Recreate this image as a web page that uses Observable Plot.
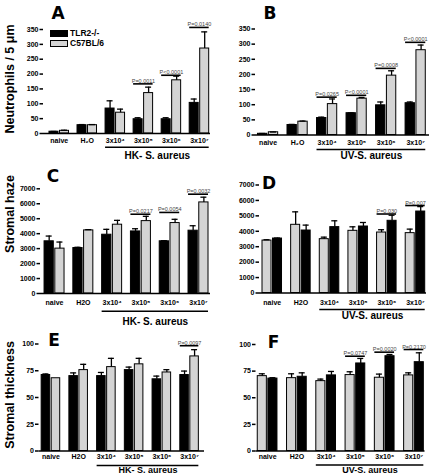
<!DOCTYPE html>
<html><head><meta charset="utf-8">
<script src="https://cdn.jsdelivr.net/npm/d3@7"></script>
<script src="https://cdn.jsdelivr.net/npm/@observablehq/plot@0.6"></script>
<style>
body{margin:0;background:#fff;}
#fig{position:relative;width:432px;height:474px;overflow:hidden;font-family:"Liberation Sans",Arial,sans-serif;color:#000;}
.panel{position:absolute;}
.ytitle{position:absolute;font-weight:bold;font-size:12.5px;white-space:nowrap;transform:translate(-50%,-50%) rotate(-90deg);}
.letter{position:absolute;font-family:"DejaVu Sans",sans-serif;font-weight:bold;font-size:17px;transform:translate(-50%,-50%);line-height:1;}
.leg{position:absolute;font-weight:bold;font-size:8.5px;display:flex;align-items:center;gap:2px;line-height:1;}
.sw{display:inline-block;width:16px;height:5px;border:1px solid #000;}
</style></head>
<body><div id="fig"></div>
<script>
// ---------- data ----------
const catsHK = ["naive", "H₂O", "3x10⁴", "3x10⁵", "3x10⁶", "3x10⁷"];
const catsPlain = ["naive", "H2O", "3x10⁴", "3x10⁵", "3x10⁶", "3x10⁷"];
const strains = ["TLR2-/-", "C57BL/6"];
const groupHK = "HK- S. aureus";
const groupUV = "UV-S. aureus";

// A: Neutrophils / 5 µm, HK-S. aureus
const aFirst = [6, 28, 84, 48, 48, 103];
const aFirstErr = [1, 2, 26, 5, 5, 13];
const aSecond = [9, 28, 70, 136, 179, 286];
const aSecondErr = [2, 2, 12, 20, 14, 56];
const aPcat = ["3x10⁵", "3x10⁶", "3x10⁷"];
const aPy = [167, 196, 357];
const aPtext = ["P=0.0011", "P<0.0001", "P=0.0140"];

// B: Neutrophils / 5 µm, UV-S. aureus
const bFirst = [4, 33, 56, 72, 98, 105];
const bFirstErr = [1, 2, 3, 1, 11, 4];
const bSecond = [9, 44, 102, 120, 196, 280];
const bSecondErr = [1, 2, 17, 4, 16, 17];
const bPcat = ["3x10⁴", "3x10⁵", "3x10⁶", "3x10⁷"];
const bPy = [125, 131, 220, 306];
const bPtext = ["P=0.0265", "P<0.0001", "P=0.0008", "P<0.0001"];

// C: Stromal haze, HK
const cFirst = [3490, 3040, 3930, 4150, 3490, 4200];
const cFirstErr = [350, 50, 360, 180, 40, 330];
const cSecond = [3000, 4220, 4600, 4840, 4710, 6090];
const cSecondErr = [440, 50, 290, 320, 250, 350];
const cPcat = ["3x10⁵", "3x10⁶", "3x10⁷"];
const cPy = [5300, 5420, 6640];
const cPtext = ["P=0.0217", "P=0.0054", "P=0.0032"];

// D: Stromal haze, UV (first bar light, second dark)
const dFirst = [3400, 4420, 3490, 4030, 3920, 3880];
const dFirstErr = [50, 840, 130, 260, 180, 260];
const dSecond = [3530, 4050, 4270, 4310, 4680, 5280];
const dSecondErr = [30, 350, 410, 260, 360, 320];
const dPcat = ["3x10⁶", "3x10⁷"];
const dPy = [5120, 5670];
const dPtext = ["P=0.030", "P=0.007"];

// E: Stromal thickness, HK
const eFirst = [71, 70, 70, 75.6, 67, 71];
const eFirstErr = [1, 3, 3.4, 2.8, 3, 3.7];
const eSecond = [68, 75.6, 78.4, 81, 73.4, 88.4];
const eSecondErr = [0, 5.4, 8.2, 5.6, 2.6, 6.3];
const ePcat = ["3x10⁷"];
const ePy = [98.4];
const ePtext = ["P=0.0097"];

// F: Stromal thickness, UV (first bar light, second dark)
const fFirst = [70.3, 68.4, 65.6, 71.3, 68.8, 71];
const fFirstErr = [2.2, 4.1, 1.9, 3.1, 3.4, 2.4];
const fSecond = [68, 69.7, 71, 82.2, 89, 83.4];
const fSecondErr = [0.8, 3.7, 3.7, 4.7, 1.6, 8.8];
const fPcat = ["3x10⁵", "3x10⁶", "3x10⁷"];
const fPy = [89, 92.8, 95.3];
const fPtext = ["P=0.0747", "P=0.0020", "P=0.2170"];

const ticksNeut = [0, 50, 100, 150, 200, 250, 300, 350];
const ticksHaze = [0, 1000, 2000, 3000, 4000, 5000, 6000, 7000];
const ticksThick = [0, 25, 50, 75, 100];

const DARK = "#000000", LIGHT = "#d4d4d4";

// ---------- layout ----------
const panels = [
  {id:"A", left:0, top:0, h:160, ml:43, mr:6, mt:29, mb:27, pi:0.305, po:0.13, align:0.82, tp:4.5, bdy:13.7, ldy:22.7, lfs:10,
   cats:catsHK, group:groupHK, first:aFirst, firstErr:aFirstErr, second:aSecond, secondErr:aSecondErr, pc:aPcat, py:aPy, pt:aPtext, ticks:ticksNeut, colors:[DARK, LIGHT]},
  {id:"B", left:216, top:0, h:160, ml:39, mr:3, mt:28.5, mb:25.5, pi:0.316, po:0.105, align:0.4, tp:5, bdy:14.5, ldy:20.5, lfs:10,
   cats:catsHK, group:groupUV, first:bFirst, firstErr:bFirstErr, second:bSecond, secondErr:bSecondErr, pc:bPcat, py:bPy, pt:bPtext, ticks:ticksNeut, colors:[DARK, LIGHT]},
  {id:"C", left:0, top:160, h:160, ml:40, mr:6, mt:28.3, mb:27, pi:0.306, po:0.105, align:0.67, tp:6.8, bdy:17.7, ldy:28.7, lfs:10,
   cats:catsPlain, group:groupHK, first:cFirst, firstErr:cFirstErr, second:cSecond, secondErr:cSecondErr, pc:cPcat, py:cPy, pt:cPtext, ticks:ticksHaze, colors:[DARK, LIGHT]},
  {id:"D", left:216, top:160, h:160, ml:43, mr:6, mt:24.5, mb:27.5, pi:0.319, po:0.075, align:0.7, tp:7.3, bdy:16.5, ldy:22.5, lfs:10,
   cats:catsPlain, group:groupUV, first:dFirst, firstErr:dFirstErr, second:dSecond, secondErr:dSecondErr, pc:dPcat, py:dPy, pt:dPtext, ticks:ticksHaze, colors:[LIGHT, DARK]},
  {id:"E", left:0, top:320, h:154, ml:38.5, mr:12, mt:23.5, mb:23.5, pi:0.331, po:0.15, align:0.32, tp:2.7, bdy:14.5, ldy:19, lfs:9,
   cats:catsPlain, group:groupHK, first:eFirst, firstErr:eFirstErr, second:eSecond, secondErr:eSecondErr, pc:ePcat, py:ePy, pt:ePtext, ticks:ticksThick, colors:[DARK, LIGHT]},
  {id:"F", left:216, top:320, h:154, ml:39.5, mr:7.5, mt:24, mb:23.5, pi:0.327, po:0.05, align:0.6, tp:2.7, bdy:14, ldy:19, lfs:9,
   cats:catsPlain, group:groupUV, first:fFirst, firstErr:fFirstErr, second:fSecond, secondErr:fSecondErr, pc:fPcat, py:fPy, pt:fPtext, ticks:ticksThick, colors:[LIGHT, DARK]},
];
const letterPos = {A:[58,12.5], B:[270,12.5], C:[53,176], D:[269,183], E:[54,340], F:[273.5,341.5]};
const yTitles = [["Neutrophils / 5 μm", 10, 79], ["Stromal haze", 10, 214], ["Stromal thickness", 10, 395]];

const fig = document.getElementById("fig");
const W = 216, GAP = 1.5, CAP = 3;

for (const p of panels) {
  const n = p.cats.length;
  const step = (W - p.ml - p.mr) / (n - p.pi + 2 * p.po);
  const bw = step * (1 - p.pi);
  const c1 = bw / 4 - GAP / 4;            // centre of first bar within band
  const c2 = 3 * bw / 4 + GAP / 4;        // centre of second bar within band
  const rows1 = p.cats.map((c, i) => ({cat: c, v: p.first[i], e: p.firstErr[i]}));
  const rows2 = p.cats.map((c, i) => ({cat: c, v: p.second[i], e: p.secondErr[i]}));
  const prow = p.pc.map((c, i) => ({cat: c, y: p.py[i], t: p.pt[i]}));
  const ymax = p.ticks[p.ticks.length - 1];

  const errMarks = (rows, c) => [
    Plot.ruleX(rows.filter(d => d.e > 0), {x: "cat", y1: "v", y2: d => d.v + d.e, dx: c - bw / 2, stroke: "#000", strokeWidth: 1.3}),
    Plot.tickY(rows.filter(d => d.e > 0), {x: "cat", y: d => d.v + d.e, insetLeft: c - CAP, insetRight: bw - c - CAP, stroke: "#000", strokeWidth: 1.3})
  ];

  const chart = Plot.plot({
    width: W, height: p.h,
    marginLeft: p.ml, marginRight: p.mr, marginTop: p.mt, marginBottom: p.mb,
    style: {fontFamily: '"Liberation Sans Narrow","Liberation Sans",Arial,sans-serif', fontWeight: "bold", fontSize: "7px", color: "#000", background: "transparent", overflow: "visible"},
    x: {type: "band", domain: p.cats, paddingInner: p.pi, paddingOuter: p.po, align: p.align, round: false},
    y: {domain: [0, ymax]},
    marks: [
      Plot.barY(rows1, {x: "cat", y: "v", fill: p.colors[0], stroke: "#000", strokeWidth: 1, insetRight: bw / 2 + GAP / 2}),
      Plot.barY(rows2, {x: "cat", y: "v", fill: p.colors[1], stroke: "#000", strokeWidth: 1, insetLeft: bw / 2 + GAP / 2}),
      ...errMarks(rows1, c1),
      ...errMarks(rows2, c2),
      Plot.ruleY(prow, {x1: "cat", x2: "cat", y: "y", stroke: "#000", strokeWidth: 1.6}),
      Plot.text(prow, {x: "cat", y: "y", text: "t", dy: -1, lineAnchor: "bottom", fontSize: 5.5, fontWeight: "normal", fill: "#444"}),
      Plot.ruleY([0], {stroke: "#000", strokeWidth: 1.5}),
      Plot.ruleY([0], {x1: () => p.cats[2], x2: () => p.cats[n - 1], dy: p.bdy, stroke: "#000", strokeWidth: 1.5}),
      Plot.text([p.group], {x: () => p.cats[3], y: () => 0, text: d => d, dx: step / 2, dy: p.ldy, fontSize: p.lfs, fontWeight: "bold", fill: "#000"}),
      Plot.axisY({ticks: p.ticks, tickFormat: d => String(d), tickSize: 3.5, tickPadding: 1.5, line: true, strokeWidth: 1.5, label: null, fontSize: 7, fontWeight: "bold"}),
      Plot.axisX({tickSize: 0, tickPadding: p.tp, label: null, fontSize: 7, fontWeight: "bold"})
    ]
  });
  const wrap = document.createElement("div");
  wrap.className = "panel";
  wrap.style.left = p.left + "px";
  wrap.style.top = p.top + "px";
  wrap.appendChild(chart);
  fig.appendChild(wrap);

  const L = document.createElement("div");
  L.className = "letter";
  L.textContent = p.id;
  L.style.left = letterPos[p.id][0] + "px";
  L.style.top = letterPos[p.id][1] + "px";
  fig.appendChild(L);
}

for (const [t, x, y] of yTitles) {
  const d = document.createElement("div");
  d.className = "ytitle";
  d.textContent = t;
  d.style.left = x + "px";
  d.style.top = y + "px";
  fig.appendChild(d);
}

// legend (panel A)
[[strains[0], DARK, 50, 29], [strains[1], LIGHT, 50, 39]].forEach(([name, col, x, y]) => {
  const d = document.createElement("div");
  d.className = "leg";
  d.style.left = x + "px";
  d.style.top = y + "px";
  d.innerHTML = `<span class="sw" style="background:${col}"></span><span>${name}</span>`;
  fig.appendChild(d);
});
</script></body></html>
